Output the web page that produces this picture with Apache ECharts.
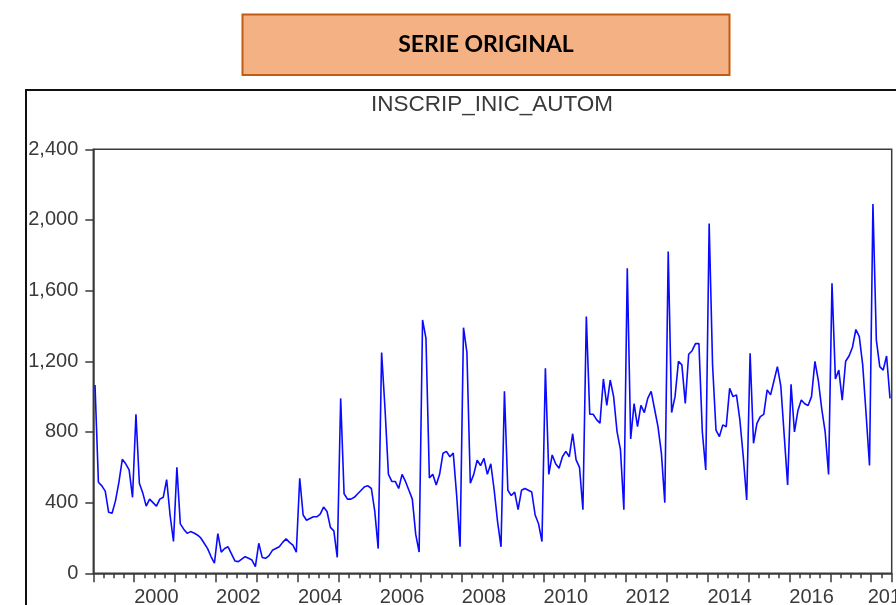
<!DOCTYPE html>
<html>
<head>
<meta charset="utf-8">
<script src="https://cdn.jsdelivr.net/npm/echarts@6/dist/echarts.min.js"></script>
<style>html,body{margin:0;padding:0;background:#fff}#c{width:896px;height:605px}</style>
</head>
<body>
<div id="c"></div>
<script>
// Monthly observations, 1999M01 .. 2018M06
const startYear = 1999;
const v1999 = [1066, 515, 495, 465, 345, 340, 410, 515, 645, 620, 585, 430];
const v2000 = [900, 510, 455, 380, 420, 400, 380, 420, 430, 530, 330, 180];
const v2001 = [600, 280, 250, 226, 236, 228, 217, 200, 170, 140, 95, 57];
const v2002 = [225, 120, 140, 150, 110, 70, 66, 80, 94, 85, 75, 38];
const v2003 = [170, 90, 85, 100, 130, 140, 150, 175, 195, 175, 160, 120];
const v2004 = [538, 330, 300, 310, 320, 320, 335, 375, 350, 260, 240, 90];
const v2005 = [990, 450, 420, 420, 430, 450, 470, 490, 495, 480, 350, 140];
const v2006 = [1250, 930, 560, 520, 520, 480, 560, 520, 470, 420, 220, 120];
const v2007 = [1434, 1330, 540, 560, 500, 560, 680, 690, 660, 680, 440, 150];
const v2008 = [1390, 1250, 510, 560, 640, 610, 650, 560, 620, 470, 290, 150];
const v2009 = [1030, 470, 440, 460, 360, 470, 480, 470, 460, 330, 280, 180];
const v2010 = [1160, 560, 670, 620, 595, 660, 690, 660, 790, 642, 600, 360];
const v2011 = [1453, 900, 900, 870, 850, 1100, 950, 1094, 1000, 802, 700, 360];
const v2012 = [1727, 760, 960, 830, 950, 910, 990, 1030, 930, 830, 680, 400];
const v2013 = [1821, 910, 1000, 1200, 1180, 962, 1240, 1260, 1300, 1300, 800, 585];
const v2014 = [1980, 1179, 811, 774, 840, 830, 1047, 1000, 1010, 868, 660, 415];
const v2015 = [1245, 736, 849, 887, 900, 1038, 1010, 1090, 1170, 1060, 780, 500];
const v2016 = [1070, 800, 920, 981, 960, 950, 1000, 1200, 1090, 930, 800, 560];
const v2017 = [1642, 1100, 1150, 980, 1200, 1230, 1280, 1380, 1340, 1180, 900, 610];
const v2018 = [2090, 1320, 1170, 1150, 1230, 990];

const values = [].concat(v1999, v2000, v2001, v2002, v2003, v2004, v2005, v2006, v2007,
  v2008, v2009, v2010, v2011, v2012, v2013, v2014, v2015, v2016, v2017, v2018);

const months = values.map((_, i) => {
  const y = startYear + Math.floor(i / 12);
  const m = (i % 12) + 1;
  return y + 'M' + (m < 10 ? '0' + m : m);
});

const yTicks = [0, 400, 800, 1200, 1600, 2000, 2400];
const chartTitle = 'INSCRIP_INIC_AUTOM';
const boxTitle = 'SERIE ORIGINAL';

const N = values.length;
const chart = echarts.init(document.getElementById('c'), null, {renderer: 'canvas'});
const fmt = v => String(v).replace(/\B(?=(\d{3})+(?!\d))/g, ',');

chart.setOption({
  animation: false,
  backgroundColor: '#ffffff',
  grid: {
    left: 93.3, top: 149.3, right: 4.3, bottom: 31.7,
    show: true, borderColor: '#3a3a3a', borderWidth: 1.5,
    containLabel: false, outerBoundsMode: 'none'
  },
  graphic: [
    {type: 'rect', shape: {x: 26, y: 90, width: 1000, height: 700},
      style: {fill: 'none', stroke: '#111', lineWidth: 2}, silent: true},
    {type: 'rect', shape: {x: 242.5, y: 14.5, width: 487, height: 60.5},
      style: {fill: '#F4B183', stroke: '#C55A11', lineWidth: 2}, silent: true},
    {type: 'text', x: 486, y: 45,
      style: {text: boxTitle, fill: '#000', font: 'bold 23px Lato, "Open Sans", sans-serif',
        textAlign: 'center', textVerticalAlign: 'middle'}, silent: true},
    {type: 'text', x: 492, y: 105,
      style: {text: chartTitle, fill: '#3a3a3a', font: '22.5px "Liberation Sans", Arial, sans-serif',
        textAlign: 'center', textVerticalAlign: 'middle'}, silent: true}
  ],
  xAxis: [
    {
      type: 'category', data: months, boundaryGap: true, position: 'bottom',
      axisLine: {show: true, lineStyle: {color: '#3a3a3a', width: 1.5}},
      axisTick: {show: true, length: 9, interval: i => i % 12 === 0,
        lineStyle: {color: '#3a3a3a', width: 1.5}},
      axisLabel: {
        show: true, interval: i => (i % 24 === 18) || (i === N - 1),
        formatter: v => v.slice(0, 4), margin: 14,
        fontSize: 20, color: '#3a3a3a', fontFamily: '"Liberation Sans", Arial, sans-serif'
      },
      splitLine: {show: false}
    },
    {
      type: 'category', data: months, boundaryGap: true, position: 'bottom',
      axisLine: {show: false},
      axisTick: {show: true, length: 5, interval: i => i % 3 === 0 && i % 12 !== 0,
        lineStyle: {color: '#3a3a3a', width: 1.5}},
      axisLabel: {show: false},
      splitLine: {show: false}
    }
  ],
  yAxis: {
    type: 'value', min: yTicks[0], max: yTicks[yTicks.length - 1], interval: 400,
    axisLine: {show: true, lineStyle: {color: '#3a3a3a', width: 1.5}},
    axisTick: {show: true, length: 8, lineStyle: {color: '#3a3a3a', width: 1.5}},
    axisLabel: {formatter: fmt, fontSize: 20, color: '#3a3a3a', margin: 15,
      fontFamily: '"Liberation Sans", Arial, sans-serif'},
    splitLine: {show: false}
  },
  series: [{
    type: 'line', xAxisIndex: 0, data: values, showSymbol: false, symbol: 'none',
    lineStyle: {color: '#0a0aff', width: 1.6}, silent: true
  }]
});
</script>
</body>
</html>
